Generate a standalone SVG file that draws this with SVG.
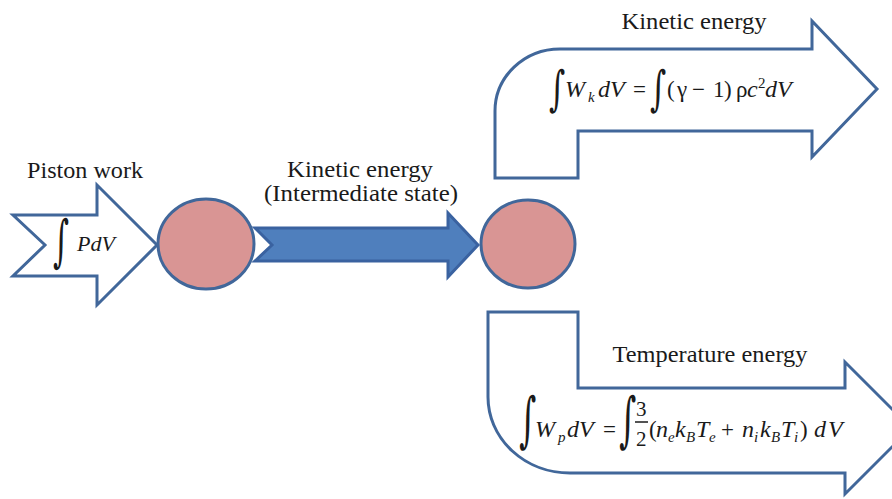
<svg xmlns="http://www.w3.org/2000/svg" width="892" height="499" viewBox="0 0 892 499">
<style>
.outline{fill:#ffffff;stroke:#41679a;stroke-width:3;stroke-linejoin:miter}
.ball{fill:#d99594;stroke:#41679a;stroke-width:3}
text{fill:#1a1a1a}
.lbl{font-size:23px;text-anchor:middle}
.m{font-size:24px;font-style:italic}
.u{font-size:23px}
.sub{font-size:15px;font-style:italic}
</style>
<rect width="892" height="499" fill="#ffffff"/>

<g id="connectors">
  <path d="M255,228 H448 V213 L478,245 L448,277 V261 H255 L272,245 Z" fill="#4f7fbd" stroke="#3a62a0" stroke-width="3"/>
  <text class="lbl" font-family="'Liberation Serif', 'Times New Roman', serif" x="360" y="177" textLength="146" lengthAdjust="spacingAndGlyphs">Kinetic energy</text>
  <text class="lbl" font-family="'Liberation Serif', 'Times New Roman', serif" x="361" y="201" textLength="194" lengthAdjust="spacingAndGlyphs">(Intermediate state)</text>
</g>

<g id="piston-work">
  <path class="outline" d="M13,215 H97 V185 L157,245 L97,305 V276 H13 L45,245 Z"/>
  <text class="lbl" font-family="'Liberation Serif', 'Times New Roman', serif" x="85" y="178" textLength="116" lengthAdjust="spacingAndGlyphs">Piston work</text>
  <text font-family="'DejaVu Serif', serif" font-size="56" transform="translate(53,260) scale(0.55,1)">∫</text>
  <text class="m" font-family="'Liberation Serif', 'Times New Roman', serif" x="77" y="251" style="font-size:22px">PdV</text>
</g>

<g id="particle-1">
  <ellipse class="ball" cx="206" cy="244" rx="48" ry="45"/>
</g>

<g id="particle-2">
  <ellipse class="ball" cx="528" cy="244" rx="47" ry="44"/>
</g>

<g id="kinetic-energy" font-family="'Liberation Serif', 'Times New Roman', serif">
  <path class="outline" d="M495,178 H578 V131 H812 V157 L877,89 L812,21 V49 H560 A65 62 0 0 0 495 111 Z"/>
  <text class="lbl" x="694" y="29" textLength="145" lengthAdjust="spacingAndGlyphs">Kinetic energy</text>
  <text font-family="'DejaVu Serif', serif" font-size="48" transform="translate(549,105) scale(0.65,1)">∫</text>
  <text class="m" x="565" y="97">W</text>
  <text class="sub" x="588" y="102">k</text>
  <text class="m" x="598" y="97">d</text>
  <text class="m" x="610" y="97">V</text>
  <text class="u" x="633" y="97">=</text>
  <text font-family="'DejaVu Serif', serif" font-size="48" transform="translate(650,105) scale(0.65,1)">∫</text>
  <text class="u" x="667" y="97">(</text>
  <text class="u" x="677" y="97">γ</text>
  <text class="u" x="692" y="97">−</text>
  <text class="u" x="713" y="97">1</text>
  <text class="u" x="724" y="97">)</text>
  <text class="u" x="736" y="97">ρ</text>
  <text class="m" x="747" y="97">c</text>
  <text class="u" x="758" y="88" style="font-size:15px">2</text>
  <text class="m" x="765" y="97">d</text>
  <text class="m" x="777" y="97">V</text>
</g>

<g id="temperature-energy" font-family="'Liberation Serif', 'Times New Roman', serif">
  <path class="outline" d="M488,312 H578 V388 H845 V362 L911,428 L845,494 V473 H570 A82 76 0 0 1 488 397 Z"/>
  <text class="lbl" x="710" y="362" textLength="195" lengthAdjust="spacingAndGlyphs">Temperature energy</text>
  <text font-family="'DejaVu Serif', serif" font-size="60" transform="translate(519,440) scale(0.55,1)">∫</text>
  <text class="m" x="535" y="437">W</text>
  <text class="sub" x="558" y="442">p</text>
  <text class="m" x="567" y="437">d</text>
  <text class="m" x="579" y="437">V</text>
  <text class="u" x="603" y="437">=</text>
  <text font-family="'DejaVu Serif', serif" font-size="60" transform="translate(619,440) scale(0.55,1)">∫</text>
  <text class="u" x="636" y="416" style="font-size:21px">3</text>
  <line x1="635" y1="422" x2="648" y2="422" stroke="#1a1a1a" stroke-width="1.5"/>
  <text class="u" x="636" y="446" style="font-size:21px">2</text>
  <text class="u" x="649" y="437">(</text>
  <text class="m" x="656" y="437">n</text>
  <text class="sub" x="668" y="442">e</text>
  <text class="m" x="675" y="437">k</text>
  <text class="sub" x="686" y="442">B</text>
  <text class="m" x="696" y="437">T</text>
  <text class="sub" x="709" y="442">e</text>
  <text class="u" x="721" y="437">+</text>
  <text class="m" x="742" y="437">n</text>
  <text class="sub" x="754" y="442">i</text>
  <text class="m" x="760" y="437">k</text>
  <text class="sub" x="771" y="442">B</text>
  <text class="m" x="781" y="437">T</text>
  <text class="sub" x="794" y="442">i</text>
  <text class="u" x="800" y="437">)</text>
  <text class="m" x="814" y="437">d</text>
  <text class="m" x="828" y="437">V</text>
</g>
</svg>
